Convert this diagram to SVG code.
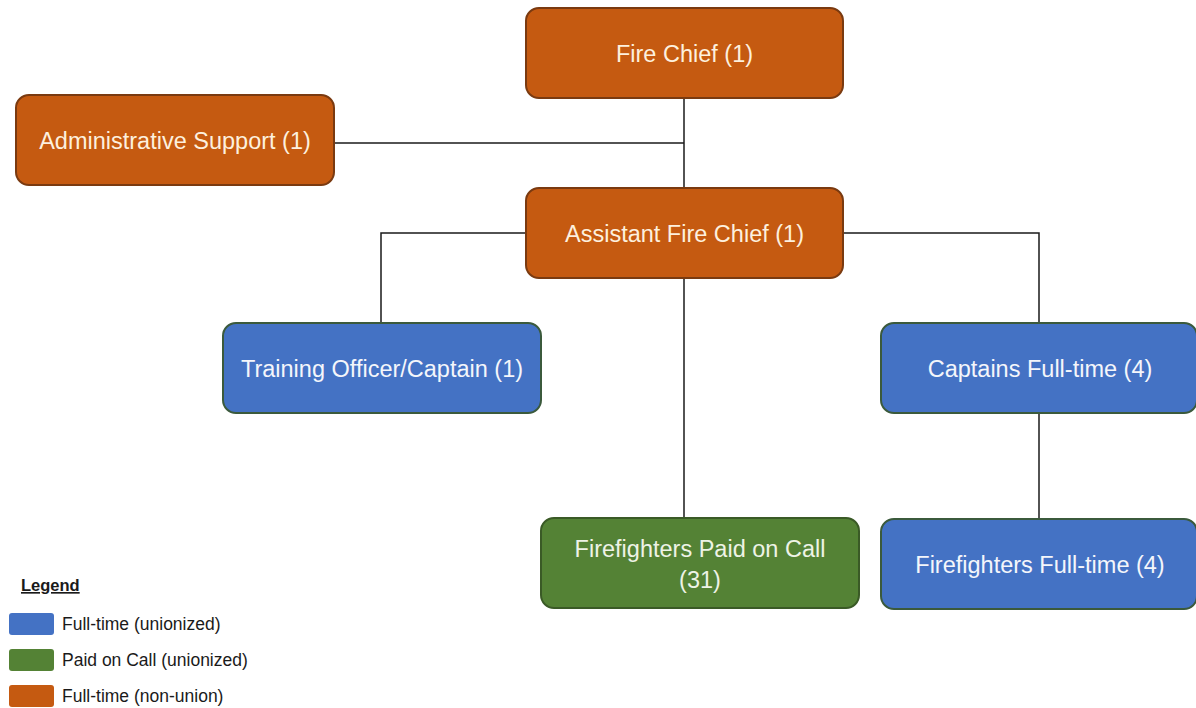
<svg xmlns="http://www.w3.org/2000/svg" width="1196" height="708" viewBox="0 0 1196 708">
<style>
.o{fill:#C55A11;stroke:#7A3A10;stroke-width:2}
.b{fill:#4472C4;stroke:#3B5A3C;stroke-width:2}
.g{fill:#548235;stroke:#3A5A26;stroke-width:2}
.t{font-family:"Liberation Sans",Arial,sans-serif;font-size:23.5px;text-anchor:middle}
.to{fill:#FDF0DE}
.tb{fill:#F4F6FB}
.tg{fill:#EEF3E6}
.c{stroke:#1a1a1a;stroke-width:1.5;fill:none}
.l{font-family:"Liberation Sans",Arial,sans-serif;font-size:17.5px;fill:#1a1a1a}
</style>
<rect width="1196" height="708" fill="#fff"/>
<g id="connectors">
<path class="c" d="M684 98V188"/>
<path class="c" d="M334 143H684"/>
<path class="c" d="M526 233H381V323"/>
<path class="c" d="M843 233H1039V323"/>
<path class="c" d="M684 278V518"/>
<path class="c" d="M1039 413V519"/>
</g>
<g id="fire-chief">
<rect class="o" x="526" y="8" width="317" height="90" rx="13"/>
<text class="t to" x="684.5" y="61.5">Fire Chief (1)</text>
</g>
<g id="admin-support">
<rect class="o" x="16" y="95" width="318" height="90" rx="13"/>
<text class="t to" x="175" y="148.5">Administrative Support (1)</text>
</g>
<g id="assistant-fire-chief">
<rect class="o" x="526" y="188" width="317" height="90" rx="13"/>
<text class="t to" x="684.5" y="241.5">Assistant Fire Chief (1)</text>
</g>
<g id="training-officer">
<rect class="b" x="223" y="323" width="318" height="90" rx="13"/>
<text class="t tb" x="382" y="376.5">Training Officer/Captain (1)</text>
</g>
<g id="captains">
<rect class="b" x="881" y="323" width="316" height="90" rx="13"/>
<text class="t tb" x="1040" y="376.5">Captains Full-time (4)</text>
</g>
<g id="ff-paid-on-call">
<rect class="g" x="541" y="518" width="318" height="90" rx="13"/>
<text class="t tg" x="700" y="557">Firefighters Paid on Call</text>
<text class="t tg" x="700" y="588">(31)</text>
</g>
<g id="ff-full-time">
<rect class="b" x="881" y="519" width="316" height="90" rx="13"/>
<text class="t tb" x="1040" y="572.5">Firefighters Full-time (4)</text>
</g>
<g id="legend">
<text x="21" y="591" font-family="Liberation Sans,Arial,sans-serif" font-size="16.5" font-weight="bold" fill="#1a1a1a" text-decoration="underline">Legend</text>
<rect x="9" y="613" width="45" height="22" rx="3" fill="#4472C4"/>
<text class="l" x="62" y="630">Full-time (unionized)</text>
<rect x="9" y="649" width="45" height="22" rx="3" fill="#548235"/>
<text class="l" x="62" y="666">Paid on Call (unionized)</text>
<rect x="9" y="685" width="45" height="22" rx="3" fill="#C55A11"/>
<text class="l" x="62" y="702">Full-time (non-union)</text>
</g>
</svg>
